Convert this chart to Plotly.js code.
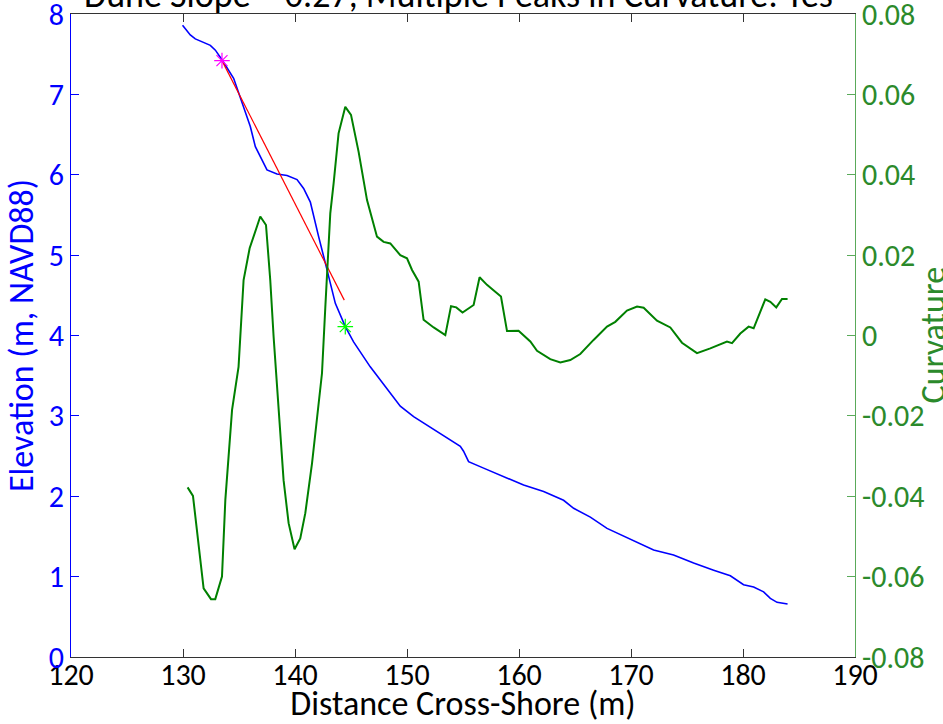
<!DOCTYPE html>
<html>
<head>
<meta charset="utf-8">
<script src="https://cdn.plot.ly/plotly-3.0.1.min.js"></script>
<style>html,body{margin:0;padding:0;background:#fff;}#chart{width:943px;height:724px;}</style>
</head>
<body>
<div id="chart"></div>
<script>
// Elevation profile (m, NAVD88)
var elevX = [129.96,130.65,131.10,131.84,132.44,132.89,133.48,134.52,135.12,136.01,136.46,137.50,138.39,139.29,140.18,140.77,141.37,141.66,142.11,142.71,143.15,143.60,144.49,145.23,146.72,148.51,149.40,150.59,152.68,154.76,155.05,155.50,156.84,158.63,160.41,162.20,163.98,164.88,166.37,167.86,169.94,172.02,173.80,175.59,177.38,178.87,180.05,180.95,181.84,182.44,183.04,183.98];
var elevY = [7.86,7.74,7.69,7.65,7.61,7.55,7.43,7.20,6.95,6.60,6.35,6.06,6.01,5.99,5.94,5.83,5.66,5.48,5.23,4.90,4.65,4.40,4.11,3.92,3.61,3.28,3.12,2.99,2.80,2.62,2.56,2.43,2.35,2.24,2.14,2.06,1.95,1.85,1.74,1.60,1.46,1.33,1.27,1.17,1.08,1.01,0.90,0.87,0.81,0.73,0.68,0.66];

// Curvature
var curvX = [130.41,130.89,131.84,132.50,132.88,133.48,133.78,134.38,134.96,135.27,135.41,135.95,136.90,137.41,137.79,138.09,138.54,138.98,139.43,139.96,140.47,140.92,141.52,141.96,142.41,142.71,142.91,143.15,143.45,143.89,144.49,145.00,145.68,146.43,147.32,147.91,148.51,149.40,150.00,150.45,151.04,151.48,152.38,153.42,153.93,154.40,154.96,155.95,156.48,157.14,157.88,158.39,158.93,159.96,161.01,161.61,162.79,163.69,164.58,165.47,166.66,167.86,168.60,169.64,170.54,171.13,172.32,173.51,174.55,175.89,177.08,178.57,179.02,179.76,180.50,180.95,181.99,182.44,182.97,183.48,183.98];
var curvY = [-0.0378,-0.0399,-0.0629,-0.0656,-0.0656,-0.0600,-0.0409,-0.0185,-0.0078,0.0080,0.0138,0.0217,0.0296,0.0275,0.0138,-0.0003,-0.0194,-0.0360,-0.0467,-0.0532,-0.0505,-0.0442,-0.0318,-0.0210,-0.0094,0.0072,0.0180,0.0304,0.0379,0.0503,0.0569,0.0549,0.0457,0.0337,0.0246,0.0233,0.0229,0.0200,0.0192,0.0163,0.0134,0.0039,0.0020,0.0001,0.0073,0.0070,0.0057,0.0076,0.0145,0.0126,0.0109,0.0097,0.0011,0.0012,-0.0015,-0.0038,-0.0059,-0.0067,-0.0061,-0.0046,-0.0011,0.0022,0.0034,0.0062,0.0072,0.0069,0.0037,0.0020,-0.0018,-0.0044,-0.0032,-0.0015,-0.0019,0.0005,0.0022,0.0018,0.0090,0.0084,0.0070,0.0091,0.0091];

// Dune slope fit line (slope ~0.27) endpoints
var fitX = [133.48,144.40];
var fitY = [7.42,4.44];

// Dune crest (magenta) and dune toe (green) points
var crestX = [133.48], crestY = [7.42];
var toeX = [144.49], toeY = [4.11];

// Tick labels
var xTickVals = [120,130,140,150,160,170,180,190];
var elevTickVals = [0,1,2,3,4,5,6,7,8];
var curvTickVals = [-0.08,-0.06,-0.04,-0.02,0,0.02,0.04,0.06,0.08];
var curvTickText = ['-0.08','-0.06','-0.04','-0.02','0','0.02','0.04','0.06','0.08'];

var titleText = 'Dune Slope = 0.27, Multiple Peaks in Curvature: Yes';
var curvTitle = 'Curvature';
var FONT = 'Carlito, Lato, "Liberation Sans", sans-serif';
var BLUE = '#0000ff', GREEN = '#008000', GREENTXT = '#2b8a2b';

var traces = [
  {x: elevX, y: elevY, type: 'scatter', mode: 'lines', line: {color: BLUE, width: 1.6}, yaxis: 'y', hoverinfo: 'skip'},
  {x: curvX, y: curvY, type: 'scatter', mode: 'lines', line: {color: GREEN, width: 2}, yaxis: 'y2', hoverinfo: 'skip'},
  {x: fitX, y: fitY, type: 'scatter', mode: 'lines', line: {color: '#ff0000', width: 1.2}, yaxis: 'y', hoverinfo: 'skip'},
  {x: crestX, y: crestY, type: 'scatter', mode: 'markers', marker: {symbol: 'asterisk-open', size: 13, color: '#ff00ff', line: {color: '#ff00ff', width: 1.2}}, yaxis: 'y', hoverinfo: 'skip'},
  {x: toeX, y: toeY, type: 'scatter', mode: 'markers', marker: {symbol: 'asterisk-open', size: 13, color: '#00ff00', line: {color: '#00ff00', width: 1.2}}, yaxis: 'y', hoverinfo: 'skip'}
];

var layout = {
  width: 943, height: 724,
  margin: {l: 71, r: 88, t: 14, b: 67, pad: 0},
  paper_bgcolor: '#ffffff', plot_bgcolor: '#ffffff',
  showlegend: false,
  font: {family: FONT, size: 30, color: '#000'},
  annotations: [
    {text: titleText, xref: 'paper', yref: 'paper', x: 0.494, y: 1, xanchor: 'center', yanchor: 'bottom', yshift: -5,
     showarrow: false, font: {family: FONT, size: 36, color: '#000'}},
    {text: curvTitle, xref: 'paper', yref: 'paper', x: 1, y: 0.5, xanchor: 'center', yanchor: 'middle', xshift: 78,
     textangle: -90, showarrow: false, font: {family: FONT, size: 34, color: GREENTXT}}
  ],
  xaxis: {
    range: [120, 190], tickvals: xTickVals, ticks: 'inside', ticklen: 8, tickcolor: '#333',
    showline: true, linecolor: '#333', linewidth: 1, mirror: 'ticks', showgrid: false, zeroline: false,
    ticklabelstandoff: -9, ticklabeloverflow: 'allow',
    tickfont: {family: FONT, size: 30, color: '#000'},
    title: {text: 'Distance Cross-Shore (m)', font: {family: FONT, size: 34, color: '#000'}, standoff: 0}
  },
  yaxis: {
    range: [0, 8], tickvals: elevTickVals, ticks: 'inside', ticklen: 8, tickcolor: BLUE,
    showline: true, linecolor: BLUE, linewidth: 1, showgrid: false, zeroline: false,
    ticklabeloverflow: 'allow',
    tickfont: {family: FONT, size: 30, color: BLUE},
    title: {text: 'Elevation (m, NAVD88)', font: {family: FONT, size: 34, color: BLUE}, standoff: 4}
  },
  yaxis2: {
    range: [-0.08, 0.08], overlaying: 'y', side: 'right', tickvals: curvTickVals, ticktext: curvTickText,
    ticks: 'inside', ticklen: 8, tickcolor: '#5aaa5a',
    showline: true, linecolor: '#5aaa5a', linewidth: 1, showgrid: false, zeroline: false,
    ticklabeloverflow: 'allow',
    tickfont: {family: FONT, size: 30, color: GREENTXT}
  }
};

Plotly.newPlot('chart', traces, layout, {staticPlot: true, displayModeBar: false});
</script>
</body>
</html>
